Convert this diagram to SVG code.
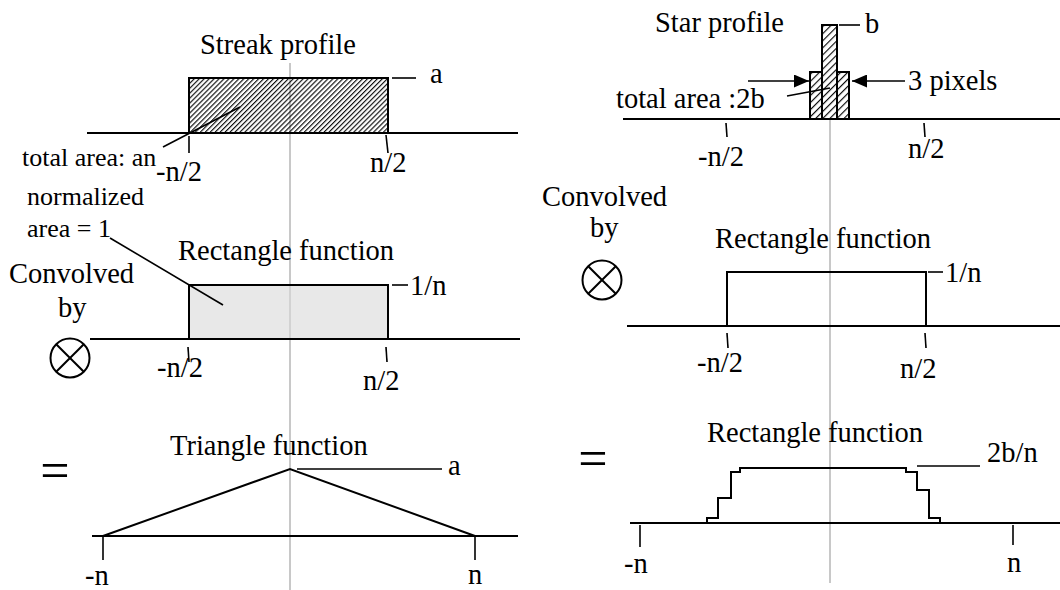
<svg xmlns="http://www.w3.org/2000/svg" width="1060" height="590" viewBox="0 0 1060 590">
<defs>
<pattern id="hatch" patternUnits="userSpaceOnUse" width="3.5" height="3.5" patternTransform="rotate(45)"><line x1="0.6" y1="0" x2="0.6" y2="3.5" stroke="#000" stroke-width="1.1"/></pattern>
<pattern id="hatch2" patternUnits="userSpaceOnUse" width="5" height="5" patternTransform="rotate(45)"><line x1="0.6" y1="0" x2="0.6" y2="5" stroke="#000" stroke-width="1.1"/></pattern>
<marker id="arr" markerUnits="userSpaceOnUse" markerWidth="15" markerHeight="13" refX="15" refY="6.5" orient="auto"><path d="M0,0 L15,6.5 L0,13 Z" fill="#000"/></marker>
</defs>
<style>
text { font-family: "Liberation Serif", "Times New Roman", serif; font-size: 28.5px; fill: #000; }
.sm { font-size: 26px; }
.eq { font-size: 52px; text-anchor: middle; }
.ax { stroke: #000; stroke-width: 2; fill: none; }
.ln { stroke: #000; stroke-width: 1.6; fill: none; }
.box { stroke: #000; stroke-width: 2; }
.ctr { stroke: #c8c8c8; stroke-width: 2; }
</style>
<rect width="1060" height="590" fill="#fff"/>

<g id="center-lines">
<line class="ctr" x1="290" y1="63" x2="290" y2="590"/>
<line class="ctr" x1="830" y1="120" x2="830" y2="583"/>
</g>

<g id="streak-profile">
<line class="ax" x1="87" y1="133" x2="518" y2="133"/>
<rect class="box" x="189" y="78" width="199" height="55" fill="url(#hatch)"/>
<text x="200" y="54">Streak profile</text>
<text x="430" y="83">a</text>
<text class="sm" x="22" y="166">total area: an</text>
<line class="ln" x1="189" y1="136" x2="189" y2="153"/>
<line class="ln" x1="386" y1="135" x2="388" y2="153"/>
<text x="156" y="181">-n/2</text>
<text x="370" y="172">n/2</text>
</g>

<g id="rect-left">
<line class="ax" x1="90" y1="339" x2="520" y2="339"/>
<rect class="box" x="189" y="285" width="199" height="54" fill="#d8d8d8" fill-opacity="0.6"/>
<text class="sm" x="27" y="205">normalized</text>
<text class="sm" x="27" y="237">area = 1</text>
<text x="178" y="260">Rectangle function</text>
<text x="410" y="295">1/n</text>
<line class="ln" x1="188" y1="347" x2="189" y2="362"/>
<line class="ln" x1="386" y1="347" x2="387" y2="362"/>
<text x="157" y="377">-n/2</text>
<text x="363" y="390">n/2</text>
</g>

<g id="convolved-left">
<text x="9" y="283">Convolved</text>
<text x="58" y="317">by</text>
<circle cx="70" cy="358" r="19.5" fill="none" stroke="#000" stroke-width="2"/>
<line class="ax" x1="56.2" y1="344.2" x2="83.8" y2="371.8"/>
<line class="ax" x1="83.8" y1="344.2" x2="56.2" y2="371.8"/>
</g>

<g id="triangle">
<text class="eq" x="55" y="488">=</text>
<line class="ax" x1="92" y1="536" x2="518" y2="536"/>
<polyline class="ax" points="103,536 290,469 475,536"/>
<text x="170" y="455">Triangle function</text>
<text x="448" y="475">a</text>
<line class="ln" x1="103" y1="536" x2="103" y2="560"/>
<line class="ln" x1="475" y1="536" x2="475" y2="560"/>
<text x="85" y="585">-n</text>
<text x="468" y="584">n</text>
</g>

<g id="star-profile">
<line class="ax" x1="623" y1="119" x2="1060" y2="119"/>
<rect class="box" x="810" y="72" width="12" height="47" fill="url(#hatch2)"/>
<rect class="box" x="822" y="25" width="15" height="94" fill="url(#hatch2)"/>
<rect class="box" x="837" y="72" width="12" height="47" fill="url(#hatch2)"/>
<text x="655" y="32">Star profile</text>
<text x="865" y="33">b</text>
<text x="908" y="90">3 pixels</text>
<text x="616" y="108">total area :2b</text>
<line class="ln" x1="726" y1="123" x2="727" y2="137"/>
<line class="ln" x1="924" y1="123" x2="925" y2="137"/>
<text x="698" y="166">-n/2</text>
<text x="908" y="158">n/2</text>
</g>

<g id="rect-right">
<text x="542" y="206">Convolved</text>
<text x="590" y="237">by</text>
<circle cx="602" cy="280" r="19.5" fill="none" stroke="#000" stroke-width="2"/>
<line class="ax" x1="588.2" y1="266.2" x2="615.8" y2="293.8"/>
<line class="ax" x1="615.8" y1="266.2" x2="588.2" y2="293.8"/>
<line class="ax" x1="627" y1="326" x2="1060" y2="326"/>
<rect class="box" x="727" y="272" width="199" height="54" fill="none"/>
<text x="715" y="248">Rectangle function</text>
<text x="945" y="282">1/n</text>
<line class="ln" x1="727" y1="333" x2="728" y2="348"/>
<line class="ln" x1="925" y1="333" x2="926" y2="348"/>
<text x="697" y="372">-n/2</text>
<text x="900" y="378">n/2</text>
</g>

<g id="stair-result">
<text class="eq" x="593" y="476">=</text>
<line class="ax" x1="630" y1="523" x2="1060" y2="523"/>
<path class="ax" d="M707,523 V518 H718 V498 H731 V472 H740 V468 H906 V472 H917 V490 H929 V518 H940 V523 Z"/>
<text x="707" y="442">Rectangle function</text>
<text x="987" y="462">2b/n</text>
<line class="ln" x1="640" y1="525" x2="640" y2="547"/>
<line class="ln" x1="1013" y1="525" x2="1013" y2="545"/>
<text x="624" y="573">-n</text>
<text x="1007" y="572">n</text>
</g>

<g id="connectors">
<line class="ln" x1="392" y1="78" x2="416" y2="78"/>
<line class="ln" x1="240" y1="107" x2="163" y2="147"/>
<line class="ln" x1="110" y1="238" x2="223" y2="305"/>
<line class="ln" x1="392" y1="285" x2="408" y2="285"/>
<line class="ln" x1="297" y1="469" x2="442" y2="469"/>
<line class="ln" x1="839" y1="25" x2="860" y2="25"/>
<line class="ln" x1="748" y1="81" x2="809" y2="81" marker-end="url(#arr)"/>
<line class="ln" x1="905" y1="81" x2="852" y2="81" marker-end="url(#arr)"/>
<line class="ln" x1="787" y1="96" x2="830" y2="88"/>
<line class="ln" x1="928" y1="272" x2="943" y2="272"/>
<line class="ln" x1="917" y1="466" x2="980" y2="466"/>
</g>
</svg>
